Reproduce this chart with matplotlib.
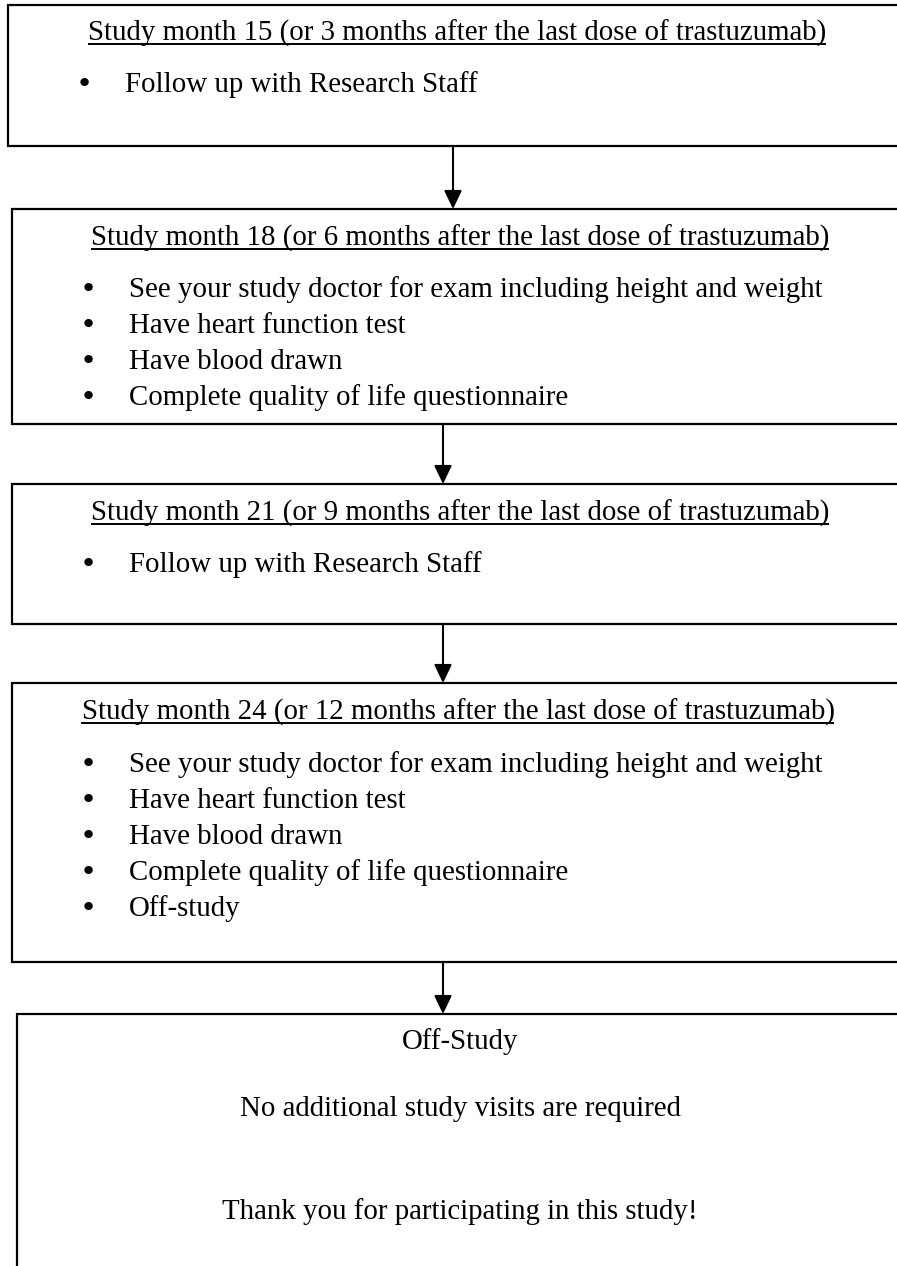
"""Follow-up visit flowchart (study months 15-24, then off-study)."""

import matplotlib

matplotlib.use("Agg")

import matplotlib.pyplot as plt
from matplotlib.patches import Rectangle

# ---- content ----
box_titles = [
    "Study month 15 (or 3 months after the last dose of trastuzumab)",
    "Study month 18 (or 6 months after the last dose of trastuzumab)",
    "Study month 21 (or 9 months after the last dose of trastuzumab)",
    "Study month 24 (or 12 months after the last dose of trastuzumab)",
]
box_items = [
    ["Follow up with Research Staff"],
    [
        "See your study doctor for exam including height and weight",
        "Have heart function test",
        "Have blood drawn",
        "Complete quality of life questionnaire",
    ],
    ["Follow up with Research Staff"],
    [
        "See your study doctor for exam including height and weight",
        "Have heart function test",
        "Have blood drawn",
        "Complete quality of life questionnaire",
        "Off-study",
    ],
]
final_lines = [
    "Off-Study",
    "No additional study visits are required",
    "Thank you for participating in this study!",
]

# ---- layout (pixels, y down) ----
W, H = 897, 1266
box_left = [8, 12, 12, 12, 17]
box_top = [5, 209, 484, 683, 1014]
box_bottom = [146, 424, 624, 962, 1300]
box_right = 920
title_x = [457, 460, 460, 458]
title_base = [41, 246, 521, 720]
bullet_x = [84, 88, 88, 88]
item_x = [125, 129, 129, 129]
first_item_base = [92, 297, 572, 772]
line_step = 36
arrow_x = [453, 443, 443, 443]
final_x = 460
final_base = [1049, 1116, 1219]

FONT = ["Liberation Serif", "DejaVu Serif"]
BULLET_FONT = ["DejaVu Sans"]
FS = 20.8


def main() -> None:
    fig = plt.figure(figsize=(W / 100, H / 100), dpi=100)
    ax = fig.add_axes([0, 0, 1, 1])
    ax.set_xlim(0, W)
    ax.set_ylim(H, 0)
    ax.axis("off")

    for i in range(5):
        ax.add_patch(Rectangle(
            (box_left[i], box_top[i]),
            box_right - box_left[i],
            box_bottom[i] - box_top[i],
            facecolor="white", edgecolor="black", linewidth=1.6, clip_on=False,
        ))

    # arrows between consecutive boxes
    for i in range(4):
        ax.annotate(
            "",
            xy=(arrow_x[i], box_top[i + 1]),
            xytext=(arrow_x[i], box_bottom[i]),
            arrowprops=dict(
                arrowstyle="-|>,head_length=0.75,head_width=0.36",
                mutation_scale=15, lw=1.5, color="black",
                shrinkA=0, shrinkB=0,
            ),
        )

    titles = []
    for i, title in enumerate(box_titles):
        t = ax.text(title_x[i], title_base[i], title, ha="center", va="baseline",
                    fontsize=FS, family=FONT)
        titles.append((t, title_base[i]))
        for k, item in enumerate(box_items[i]):
            y = first_item_base[i] + k * line_step
            ax.text(bullet_x[i], y, "\u2022", ha="center", va="baseline",
                    fontsize=FS, family=BULLET_FONT)
            ax.text(item_x[i], y, item, ha="left", va="baseline",
                    fontsize=FS, family=FONT)

    for k, line in enumerate(final_lines):
        ax.text(final_x, final_base[k], line, ha="center", va="baseline",
                fontsize=FS, family=FONT)

    # underline the box titles using their rendered extents
    fig.canvas.draw()
    renderer = fig.canvas.get_renderer()
    inv = ax.transData.inverted()
    for t, base in titles:
        bb = t.get_window_extent(renderer)
        x0, _ = inv.transform((bb.x0, bb.y0))
        x1, _ = inv.transform((bb.x1, bb.y0))
        ax.plot([x0, x1], [base + 3, base + 3], color="black", lw=1.4,
                solid_capstyle="butt")

    fig.savefig("out.png", dpi=100)
    plt.close(fig)


if __name__ == "__main__":
    main()
